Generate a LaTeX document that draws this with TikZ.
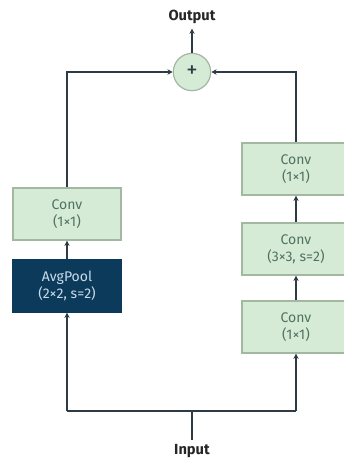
\documentclass[tikz,border=0pt]{standalone}
\usepackage{fontspec}
\setmainfont{Fira Sans}
\usetikzlibrary{arrows.meta}
\definecolor{boxfill}{HTML}{D6EBD6}
\definecolor{boxline}{HTML}{A3B8A3}
\definecolor{boxtext}{HTML}{4F7263}
\definecolor{poolfill}{HTML}{0C3A5B}
\definecolor{pooltext}{HTML}{C9DCEB}
\definecolor{wire}{HTML}{2E3B45}
\definecolor{sumfill}{HTML}{D6EBD6}
\tikzset{
  layer/.style={draw=boxline, fill=boxfill, line width=0.9pt, text=boxtext,
    minimum width=81pt, minimum height=39pt, align=center, inner sep=0pt,
    font=\fontsize{10.5}{13}\selectfont},
  pool/.style={layer, draw=poolfill, fill=poolfill, text=pooltext},
  sumnode/.style={circle, draw=boxline, fill=sumfill, line width=0.9pt,
    minimum size=28pt, inner sep=0pt, text=wire, font=\fontsize{17}{18}\selectfont},
  label/.style={font=\bfseries\fontsize{11}{13}\selectfont, text=black!85},
  wire/.style={draw=wire, line width=1.5pt},
  flow/.style={wire, -{Stealth[length=4pt,width=4pt]}}
}
\begin{document}
\begin{tikzpicture}[x=0.75pt, y=-0.75pt]
  \useasboundingbox (0,0) rectangle (343,460);
  % residual sum and output
  \node[sumnode] (sum) at (192,72) {+};
  \node[label] (out) at (192,17) {Output};
  % shortcut branch
  \node[layer] (sc) at (67,214) {Conv\\(1×1)};
  \node[pool] (avg) at (67,286) {AvgPool\\(2×2, s=2)};
  % main branch
  \node[layer] (c3) at (296,169) {Conv\\(1×1)};
  \node[layer] (c2) at (296,249) {Conv\\(3×3, s=2)};
  \node[layer] (c1) at (296,327) {Conv\\(1×1)};
  % input
  \node[label] (in) at (192,451) {Input};
  \coordinate (split) at (192,411);
  \coordinate (bl) at (67,411);
  \coordinate (br) at (296,411);
  % wiring
  \draw[wire] (in.north) -- (split);
  \draw[wire] (bl) -- (br);
  \draw[flow] (bl) -- (avg.south);
  \draw[flow] (avg.north) -- (sc.south);
  \draw[flow] (sc.north) |- (sum.west);
  \draw[flow] (br) -- (c1.south);
  \draw[flow] (c1.north) -- (c2.south);
  \draw[flow] (c2.north) -- (c3.south);
  \draw[flow] (c3.north) |- (sum.east);
  \draw[flow] (sum.north) -- (out.south);
\end{tikzpicture}
\end{document}
